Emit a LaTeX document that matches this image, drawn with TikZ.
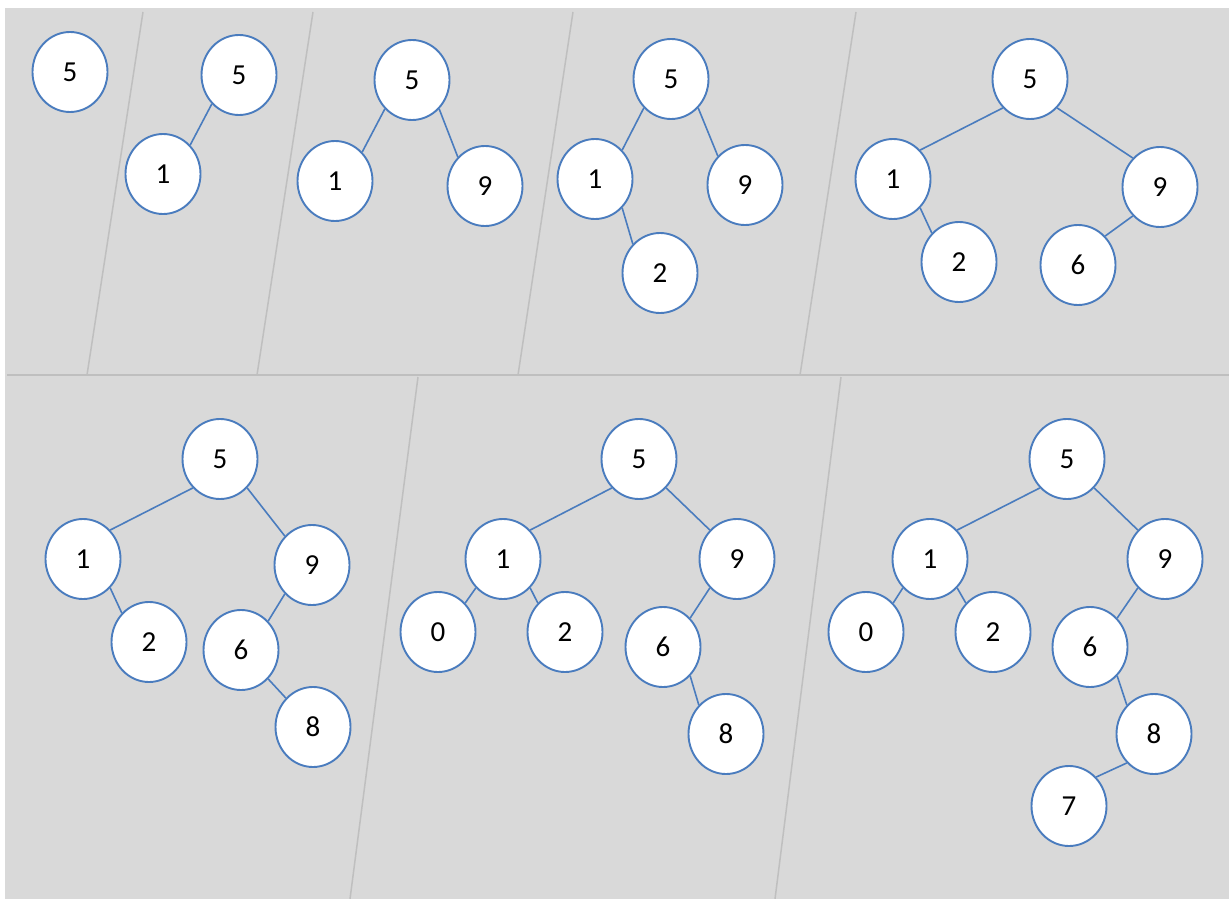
\documentclass[tikz,border=0pt]{standalone}
\usepackage{fontspec}
\setmainfont{Carlito}
\usepackage{xcolor}
\usepackage{tikz}
\usetikzlibrary{shapes.geometric}
\definecolor{panelgray}{RGB}{217,217,217}
\definecolor{dividergray}{RGB}{191,191,191}
\definecolor{nodeblue}{RGB}{74,124,190}
\tikzset{
  treenode/.style={
    ellipse,
    draw=nodeblue,
    line width=1.9pt,
    fill=white,
    minimum width=75pt,
    minimum height=80pt,
    inner sep=0pt,
    font=\fontsize{29}{29}\selectfont
  },
  treeedge/.style={
    draw=nodeblue,
    line width=1.6pt
  },
  divider/.style={
    draw=dividergray,
    line width=1.5pt
  }
}

\begin{document}
\begin{tikzpicture}[x=1pt,y=-1pt]
\useasboundingbox (0,0) rectangle (1229,899);
\fill[panelgray] (5,8) rectangle (1229,899);

\draw[divider] (7,375) -- (1229,375);
\draw[divider] (143,12) -- (87,375);
\draw[divider] (313,12) -- (257,375);
\draw[divider] (573,12) -- (518,375);
\draw[divider] (856,12) -- (800,375);
\draw[divider] (418,377) -- (350,899);
\draw[divider] (841,377) -- (775,899);

% step 1
\node[treenode] (a5) at (70,72) {5};

% step 2
\node[treenode] (b5) at (239,75) {5};
\node[treenode] (b1) at (163,174) {1};
\draw[treeedge] (b5.south west) -- (b1.north east);

% step 3
\node[treenode] (c5) at (412,80) {5};
\node[treenode] (c1) at (335,181) {1};
\node[treenode] (c9) at (485,186) {9};
\draw[treeedge] (c5.south west) -- (c1.north east);
\draw[treeedge] (c5.south east) -- (c9.north west);

% step 4
\node[treenode] (d5) at (671,79) {5};
\node[treenode] (d1) at (595,179) {1};
\node[treenode] (d9) at (745,185) {9};
\node[treenode] (d2) at (660,273) {2};
\draw[treeedge] (d5.south west) -- (d1.north east);
\draw[treeedge] (d5.south east) -- (d9.north west);
\draw[treeedge] (d1.south east) -- (d2.north west);

% step 5
\node[treenode] (e5) at (1030,79) {5};
\node[treenode] (e1) at (893,179) {1};
\node[treenode] (e9) at (1160,187) {9};
\node[treenode] (e2) at (959,262) {2};
\node[treenode] (e6) at (1078,265) {6};
\draw[treeedge] (e5.south west) -- (e1.north east);
\draw[treeedge] (e5.south east) -- (e9.north west);
\draw[treeedge] (e1.south east) -- (e2.north west);
\draw[treeedge] (e9.south west) -- (e6.north east);

% step 6
\node[treenode] (f5) at (220,459) {5};
\node[treenode] (f1) at (83,559) {1};
\node[treenode] (f9) at (312,565) {9};
\node[treenode] (f2) at (149,642) {2};
\node[treenode] (f6) at (241,650) {6};
\node[treenode] (f8) at (313,727) {8};
\draw[treeedge] (f5.south west) -- (f1.north east);
\draw[treeedge] (f5.south east) -- (f9.north west);
\draw[treeedge] (f1.south east) -- (f2.north west);
\draw[treeedge] (f9.south west) -- (f6.north east);
\draw[treeedge] (f6.south east) -- (f8.north west);

% step 7
\node[treenode] (g5) at (639,459) {5};
\node[treenode] (g1) at (503,559) {1};
\node[treenode] (g9) at (737,559) {9};
\node[treenode] (g0) at (438,632) {0};
\node[treenode] (g2) at (565,632) {2};
\node[treenode] (g6) at (663,647) {6};
\node[treenode] (g8) at (726,734) {8};
\draw[treeedge] (g5.south west) -- (g1.north east);
\draw[treeedge] (g5.south east) -- (g9.north west);
\draw[treeedge] (g1.south west) -- (g0.north east);
\draw[treeedge] (g1.south east) -- (g2.north west);
\draw[treeedge] (g9.south west) -- (g6.north east);
\draw[treeedge] (g6.south east) -- (g8.north west);

% step 8
\node[treenode] (h5) at (1067,459) {5};
\node[treenode] (h1) at (930,559) {1};
\node[treenode] (h9) at (1165,559) {9};
\node[treenode] (h0) at (866,632) {0};
\node[treenode] (h2) at (993,632) {2};
\node[treenode] (h6) at (1090,647) {6};
\node[treenode] (h8) at (1154,734) {8};
\node[treenode] (h7) at (1069,806) {7};
\draw[treeedge] (h5.south west) -- (h1.north east);
\draw[treeedge] (h5.south east) -- (h9.north west);
\draw[treeedge] (h1.south west) -- (h0.north east);
\draw[treeedge] (h1.south east) -- (h2.north west);
\draw[treeedge] (h9.south west) -- (h6.north east);
\draw[treeedge] (h6.south east) -- (h8.north west);
\draw[treeedge] (h8.south west) -- (h7.north east);
\end{tikzpicture}
\end{document}
